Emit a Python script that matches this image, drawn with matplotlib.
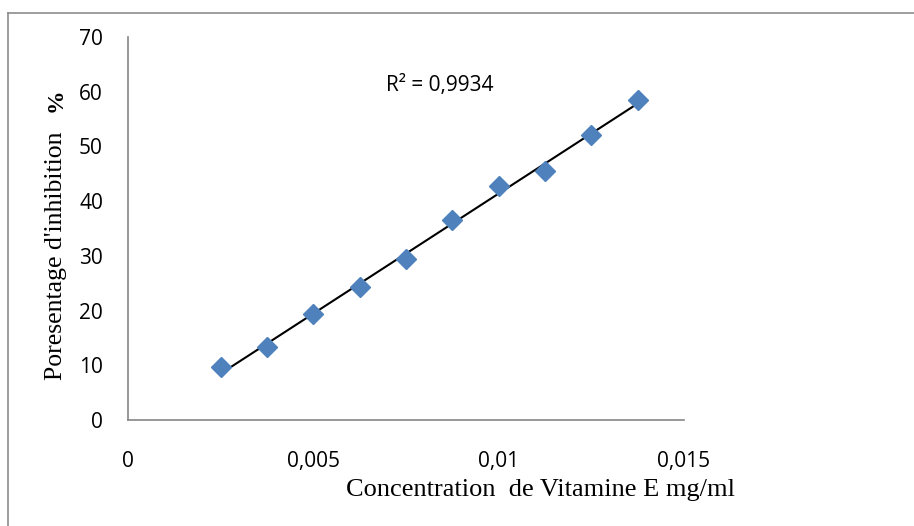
import numpy as np
import matplotlib
matplotlib.use("Agg")
import matplotlib.pyplot as plt
from matplotlib.lines import Line2D

# Data
concentration = [0.0025, 0.00375, 0.005, 0.00625, 0.0075, 0.00875, 0.01, 0.01125, 0.0125, 0.01375]
inhibition = [9.6, 13.3, 19.4, 24.3, 29.5, 36.6, 42.7, 45.6, 52.1, 58.5]
x_ticks = [0, 0.005, 0.01, 0.015]
x_tick_labels = ["0", "0,005", "0,01", "0,015"]
y_ticks = [0, 10, 20, 30, 40, 50, 60, 70]
r2_label = "R² = 0,9934"

W, H = 914, 526
fig = plt.figure(figsize=(W / 100, H / 100), dpi=100)
fig.patch.set_facecolor("white")

left, right = 128 / W, 684 / W
bottom, top = 1 - 420 / H, 1 - 37 / H
ax = fig.add_axes([left, bottom, right - left, top - bottom])
ax.set_xlim(0, 0.015)
ax.set_ylim(0, 70)

for s in ["top", "right"]:
    ax.spines[s].set_visible(False)
for s in ["left", "bottom"]:
    ax.spines[s].set_color("#868686")
    ax.spines[s].set_linewidth(1.2)

ax.set_xticks(x_ticks)
ax.set_xticklabels(x_tick_labels)
ax.set_yticks(y_ticks)
ax.tick_params(axis="both", length=0, labelsize=15, colors="black")
ax.tick_params(axis="x", pad=22)
ax.tick_params(axis="y", pad=18)
for lab in ax.get_xticklabels() + ax.get_yticklabels():
    lab.set_fontfamily("Open Sans")

x = np.array(concentration)
y = np.array(inhibition)
slope, intercept = np.polyfit(x, y, 1)
xf = np.array([x.min(), x.max()])
ax.plot(xf, slope * xf + intercept, color="black", lw=1.5, zorder=2)
ax.plot(x, y, linestyle="none", marker="D", ms=10, color="#4F81BD", mec="#4F81BD", zorder=3, clip_on=False)

ax.text(0.00842, 61.2, r2_label, fontsize=15, fontfamily="Open Sans", ha="center", va="center")

# Axis titles
fig.text(540 / W, 1 - 490 / H, "Concentration  de Vitamine E mg/ml", fontsize=19,
         fontfamily="Liberation Serif", ha="center", va="center")
fig.text(56 / W, 1 - 256 / H, "Poresentage d'inhibition", fontsize=18.5,
         fontfamily="Liberation Serif", ha="center", va="center", rotation=90)
fig.text(56 / W, 1 - 100 / H, "%", fontsize=17, fontweight="bold",
         fontfamily="Liberation Serif", ha="center", va="center", rotation=90)

# Outer border (chart area frame, cut at right and bottom)
fig.add_artist(Line2D([8 / W, 1.0], [1 - 13 / H, 1 - 13 / H], transform=fig.transFigure,
                      color="#8C8C8C", lw=1.2))
fig.add_artist(Line2D([8 / W, 8 / W], [0.0, 1 - 13 / H], transform=fig.transFigure,
                      color="#8C8C8C", lw=1.2))

fig.savefig("out.png", dpi=100, facecolor="white")
